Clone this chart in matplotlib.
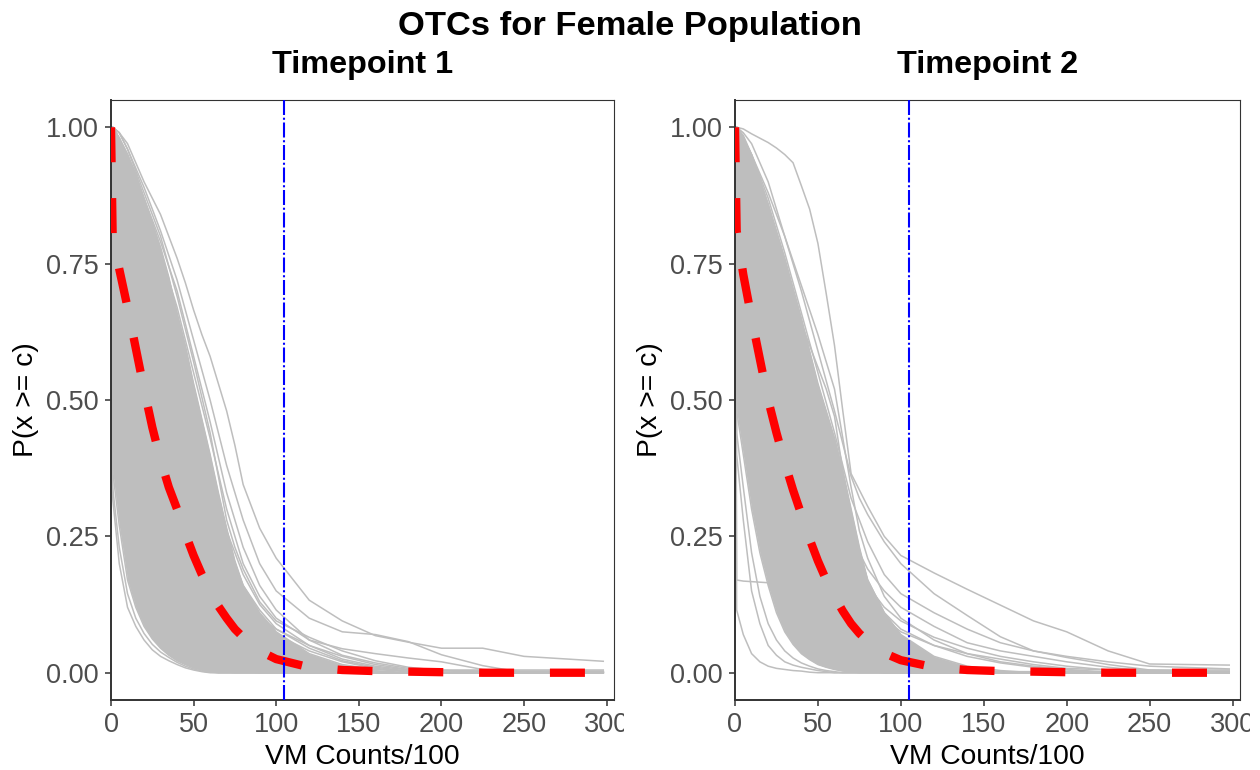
import numpy as np
import matplotlib
matplotlib.use("Agg")
import matplotlib.pyplot as plt
from matplotlib.transforms import Bbox

plt.rcParams['font.family'] = ['Liberation Sans', 'DejaVu Sans']

x_grid = [0, 1, 5, 10, 15, 20, 25, 30, 35, 40, 45, 50, 55, 60, 65, 70, 75, 80,
          90, 100, 120, 140, 160, 180, 200, 225, 250, 298]

# ---- Timepoint 1 ----
t1_curves = [
    [1, .32, .20, .12, .085, .06, .042, .03, .022, .015, .009, .005, .002, 0, 0, 0, 0, 0, 0, 0, 0, 0, 0, 0, 0, 0, 0, 0],
    [1, .34, .23, .145, .10, .072, .052, .038, .028, .019, .012, .007, .003, .001, 0, 0, 0, 0, 0, 0, 0, 0, 0, 0, 0, 0, 0, 0],
    [1, .50, .40, .30, .23, .16, .12, .085, .06, .045, .03, .02, .013, .008, .004, .002, 0, 0, 0, 0, 0, 0, 0, 0, 0, 0, 0, 0],
    [1, .63, .55, .46, .38, .30, .235, .18, .135, .10, .075, .05, .035, .025, .015, .01, .006, .004, 0, 0, 0, 0, 0, 0, 0, 0, 0, 0],
    [1, .78, .71, .63, .55, .47, .39, .32, .26, .20, .155, .12, .09, .065, .048, .035, .025, .018, .008, .003, 0, 0, 0, 0, 0, 0, 0, 0],
    [1, .93, .88, .81, .74, .67, .60, .52, .44, .37, .31, .25, .20, .15, .12, .09, .07, .05, .03, .015, .004, 0, 0, 0, 0, 0, 0, 0],
    [1, .99, .96, .91, .85, .79, .72, .65, .57, .50, .43, .36, .29, .23, .18, .13, .10, .075, .045, .025, .008, .002, 0, 0, 0, 0, 0, 0],
    [1, 1, .99, .97, .935, .90, .87, .84, .80, .76, .715, .665, .62, .58, .53, .48, .417, .345, .265, .21, .133, .095, .068, .056, .045, .045, .03, .021],
    [1, 1, .99, .96, .925, .89, .85, .81, .765, .72, .665, .61, .555, .50, .44, .38, .33, .28, .20, .15, .10, .075, .07, .057, .033, .013, 0, 0],
    [1, 1, .98, .95, .91, .87, .83, .79, .745, .70, .64, .58, .52, .46, .395, .33, .28, .23, .16, .115, .06, .044, .035, .027, .02, .006, 0, 0],
    [1, 1, .98, .95, .905, .86, .815, .77, .72, .67, .61, .55, .49, .43, .365, .30, .25, .20, .14, .10, .06, .032, .018, .008, .004, .003, .003, .003],
    [1, 1, .98, .94, .895, .85, .805, .76, .70, .64, .58, .52, .45, .38, .32, .26, .22, .18, .125, .09, .05, .025, .012, .005, 0, 0, 0, 0],
    [1, 1, .99, .96, .92, .88, .84, .80, .745, .69, .63, .57, .505, .44, .36, .28, .23, .19, .13, .095, .065, .04, .022, .01, .004, .002, .002, .002],
    [1, 1, .97, .93, .885, .84, .79, .74, .68, .62, .555, .49, .42, .35, .295, .24, .20, .16, .115, .08, .045, .022, .01, .003, 0, 0, 0, 0],
    [1, 1, .98, .94, .895, .85, .80, .75, .69, .63, .565, .50, .435, .37, .295, .22, .175, .14, .10, .07, .04, .02, .008, .002, .001, .001, .001, .001],
    [1, 1, .97, .92, .87, .82, .76, .70, .64, .58, .51, .45, .385, .32, .26, .21, .17, .14, .10, .08, .05, .03, .015, .006, .005, .005, .005, .005],
]
# lower and upper edge of the solid part of the band
t1_band_low = [1, .37, .27, .17, .12, .085, .062, .045, .032, .022, .015, .009, .005, .002, 0, 0, 0, 0, 0, 0, 0, 0, 0, 0, 0, 0, 0, 0]
t1_band_high = [1, 1, .98, .95, .915, .87, .825, .78, .725, .66, .60, .53, .465, .40, .33, .265, .205, .16, .11, .075, .035, .015, .006, .002, 0, 0, 0, 0]
t1_mean = [1, .80, .74, .67, .595, .52, .45, .39, .34, .30, .255, .215, .18, .15, .122, .10, .08, .065, .04, .025, .01, .005, .003, .002, .001, 0, 0, 0]

# ---- Timepoint 2 ----
t2_curves = [
    [1, .115, .07, .035, .02, .012, .008, .006, .004, .003, .001, 0, 0, 0, 0, 0, 0, 0, 0, 0, 0, 0, 0, 0, 0, 0, 0, 0],
    [1, .17, .168, .167, .166, .165, .13, .10, .08, .06, .045, .035, .025, .018, .012, .008, .005, .003, 0, 0, 0, 0, 0, 0, 0, 0, 0, 0],
    [1, .40, .28, .15, .09, .05, .032, .02, .014, .01, .007, .004, .002, 0, 0, 0, 0, 0, 0, 0, 0, 0, 0, 0, 0, 0, 0, 0],
    [1, .44, .34, .22, .14, .09, .06, .04, .027, .018, .012, .007, .004, .002, 0, 0, 0, 0, 0, 0, 0, 0, 0, 0, 0, 0, 0, 0],
    [1, .66, .60, .52, .44, .35, .28, .21, .155, .11, .08, .055, .038, .025, .016, .01, .006, .003, 0, 0, 0, 0, 0, 0, 0, 0, 0, 0],
    [1, .86, .82, .75, .67, .59, .50, .42, .34, .27, .21, .16, .12, .085, .06, .04, .028, .02, .01, .004, 0, 0, 0, 0, 0, 0, 0, 0],
    [1, .98, .96, .91, .85, .78, .70, .62, .54, .46, .39, .32, .255, .20, .15, .11, .08, .055, .028, .014, .004, .002, .002, .002, .002, .002, .002, .002],
    [1, 1, .997, .988, .98, .972, .962, .95, .935, .893, .85, .787, .695, .60, .48, .365, .335, .305, .25, .215, .183, .153, .124, .095, .075, .04, .016, .014],
    [1, 1, .99, .97, .935, .90, .85, .80, .75, .70, .645, .59, .535, .48, .42, .36, .32, .29, .24, .20, .145, .105, .066, .04, .028, .015, .005, 0],
    [1, 1, .98, .95, .91, .87, .82, .77, .715, .66, .605, .55, .495, .44, .38, .32, .28, .24, .18, .145, .11, .08, .055, .04, .03, .02, .012, .007],
    [1, 1, .98, .94, .895, .85, .795, .74, .68, .62, .56, .50, .44, .38, .32, .26, .22, .19, .15, .12, .085, .055, .04, .03, .02, .01, .003, .003],
    [1, 1, .97, .93, .88, .83, .775, .72, .66, .60, .54, .48, .42, .36, .30, .24, .19, .16, .12, .095, .065, .045, .03, .02, .012, .005, 0, 0],
    [1, 1, .97, .92, .87, .82, .76, .70, .64, .58, .52, .46, .40, .34, .28, .22, .17, .14, .10, .075, .05, .035, .025, .015, .008, .005, .005, .005],
    [1, 1, .97, .93, .885, .84, .79, .74, .69, .64, .60, .56, .52, .47, .37, .28, .22, .17, .11, .08, .05, .03, .018, .01, .005, 0, 0, 0],
    [1, 1, .98, .95, .915, .88, .84, .80, .755, .71, .665, .62, .57, .52, .43, .34, .26, .21, .14, .10, .06, .035, .02, .012, .006, .001, .001, .001],
]
t2_band_low = [1, .48, .40, .30, .22, .16, .11, .075, .052, .035, .024, .015, .01, .006, .003, .002, 0, 0, 0, 0, 0, 0, 0, 0, 0, 0, 0, 0]
t2_band_high = [1, 1, .985, .95, .905, .86, .81, .76, .705, .65, .59, .53, .48, .43, .37, .30, .23, .17, .11, .07, .03, .012, .004, 0, 0, 0, 0, 0]
t2_mean = [1, .81, .73, .65, .575, .50, .44, .385, .335, .29, .245, .205, .17, .14, .113, .09, .072, .058, .036, .023, .01, .005, .003, .002, .001, 0, 0, 0]

cutoff = 105
x_ticks = [0, 50, 100, 150, 200, 250, 300]
y_ticks = [0, 0.25, 0.5, 0.75, 1.0]
y_tick_labels = ['0.00', '0.25', '0.50', '0.75', '1.00']

GRAY = '#BEBEBE'
W, H = 1260, 770

fig = plt.figure(figsize=(W / 100, H / 100), dpi=100)
fig.patch.set_facecolor('white')


def draw_panel(left_px, right_px, curves, band_low, band_high, mean, title, clip_px):
    ax = fig.add_axes([left_px / W, 70 / H, (right_px - left_px) / W, 600 / H])
    ax.fill_between(x_grid, band_low, band_high, color=GRAY, lw=0, zorder=1)
    for c in curves + [band_low, band_high]:
        ax.plot(x_grid, c, color=GRAY, lw=1.1, zorder=2)
    ax.plot(x_grid, mean, color='red', lw=6, linestyle=(0, (4.2, 4.3)),
            solid_capstyle='butt', zorder=3)
    ax.axvline(cutoff, color='blue', lw=1.5, linestyle=(0, (7.2, 1.3, 1.0, 1.3)), zorder=4)

    ax.set_xlim(0, 304.5)
    ax.set_ylim(-0.05, 1.05)
    ax.set_xticks(x_ticks)
    ax.set_yticks(y_ticks)
    ax.set_yticklabels(y_tick_labels)
    ax.tick_params(direction='out', length=4.3, width=1.1, color='#333333',
                   labelsize=19.5, labelcolor='#4D4D4D', pad=4.3)
    for side in ['top', 'right']:
        ax.spines[side].set_linewidth(0.8)
        ax.spines[side].set_color('#333333')
    for side in ['left', 'bottom']:
        ax.spines[side].set_linewidth(1.4)
        ax.spines[side].set_color('#333333')

    # the last x label is cut off by the neighbouring plot area
    box = Bbox.from_extents(0, 0, clip_px, H)
    for lab in ax.get_xticklabels():
        lab.set_clip_box(box)
        lab.set_clip_on(True)

    cx = (left_px + right_px) / 2 / W
    fig.text(cx, 1 - 73 / H, title, ha='center', va='baseline',
             fontsize=23.3, fontweight='bold')
    fig.text(cx, 1 - 764 / H, 'VM Counts/100', ha='center', va='baseline', fontsize=20.3)
    fig.text((left_px - 85) / W, 1 - 400 / H, 'P(x >= c)', ha='center', va='center',
             rotation=90, fontsize=20.3)
    return ax


draw_panel(111, 614, t1_curves, t1_band_low, t1_band_high, t1_mean, 'Timepoint 1', 624)
draw_panel(735, 1240, t2_curves, t2_band_low, t2_band_high, t2_mean, 'Timepoint 2', 1250)

fig.text(0.5, 1 - 35 / H, 'OTCs for Female Population', ha='center', va='baseline',
         fontsize=24.8, fontweight='bold')

fig.savefig('out.png', dpi=100)
